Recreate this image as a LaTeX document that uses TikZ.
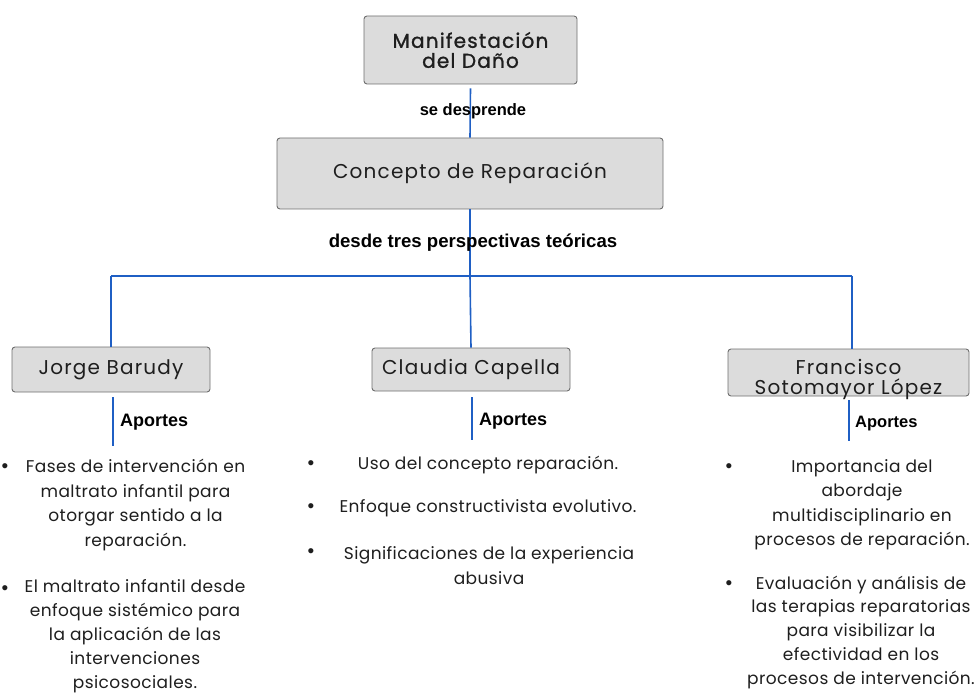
\documentclass[tikz,border=0pt]{standalone}
\usepackage{fontspec}
\setmainfont{Poppins}
\newfontfamily\labfont{Liberation Sans}
\newfontfamily\boxfont{Poppins}[LetterSpace=6]
\newfontfamily\boxboldfont{Poppins}[LetterSpace=6,FakeBold=1.2]
\newfontfamily\itemfont{Poppins}[LetterSpace=2.5]
\definecolor{boxgray}{HTML}{DCDCDC}
\definecolor{boxedge}{HTML}{6E6E6E}
\definecolor{linkblue}{HTML}{1F5FC4}
\definecolor{txt}{HTML}{1E1E1E}
\tikzset{
  box/.style={draw=boxedge, fill=boxgray, rounded corners=3pt, line width=0.9pt, inner sep=0pt, align=center, text=txt},
  boxtext/.style={font=\boxfont\fontsize{20}{20}\selectfont},
  link/.style={draw=linkblue, line width=1.6pt},
  lab/.style={font=\labfont\bfseries\fontsize{18}{20}\selectfont, inner sep=0pt, text=black},
  item/.style={font=\itemfont\fontsize{17}{24.5}\selectfont, align=center, inner sep=0pt, text=txt},
  bul/.style={font=\labfont\fontsize{19}{19}\selectfont, inner sep=0pt, text=txt}
}
\begin{document}
\begin{tikzpicture}[x=1pt,y=-1pt]
\useasboundingbox (0,0) rectangle (978,695);
% boxes
\node[box, minimum width=213pt, minimum height=68pt, font=\boxboldfont\fontsize{20}{20}\selectfont] (manif) at (470.5,50) {Manifestación\\del Daño};
\node[box, boxtext, minimum width=386pt, minimum height=71pt] (concepto) at (470,173.5) {Concepto de Reparación};
\node[box, boxtext, minimum width=198pt, minimum height=45pt] (jorge) at (111,369.5) {Jorge Barudy};
\node[box, boxtext, minimum width=198pt, minimum height=43pt] (claudia) at (471,369.5) {Claudia Capella};
\node[box, boxtext, minimum width=241pt, minimum height=47pt, font=\boxfont\fontsize{20}{20.5}\selectfont, text depth=0pt] (francisco) at (848.5,372.5) {\raisebox{1pt}{\parbox{230pt}{\centering Francisco\\Sotomayor López}}};
% connectors
\draw[link] ([yshift=-4pt]manif.south) -- (concepto.north);
\node[lab, font=\labfont\bfseries\fontsize{16.5}{18}\selectfont] (l1) at (473,111) {se desprende};
\coordinate (hub) at (470,276);
\coordinate (hl) at (111,276);
\coordinate (hr) at (852,276);
\draw[link] (concepto.south) -- (hub);
\draw[link] (hl) -- (hr);
\draw[link] (hl) -- (jorge.north);
\draw[link] (hub) -- (claudia.north);
\draw[link] (hr) -- (hr |- francisco.north);
\node[lab, font=\labfont\bfseries\fontsize{18.6}{20}\selectfont] (l2) at (473,243) {desde tres perspectivas teóricas};
% aportes
\coordinate (aj) at (113,446);
\coordinate (ac) at (472,440);
\coordinate (af) at (849,441);
\draw[link] ([yshift=-5pt]jorge.south -| aj) -- (aj);
\draw[link] ([yshift=-6pt]claudia.south -| ac) -- (ac);
\draw[link] ([yshift=-4pt]francisco.south -| af) -- (af);
\node[lab, anchor=west] (lj) at (120,422) {Aportes};
\node[lab, anchor=west] (lc) at (479,421) {Aportes};
\node[lab, anchor=west, font=\labfont\bfseries\fontsize{16.5}{18}\selectfont] (lf) at (855,424) {Aportes};
% left items
\node[bul] (bj1) at (5,468) {•};
\node[item] (ij1) at (135.5,505) {Fases de intervención en\\maltrato infantil para\\otorgar sentido a la\\reparación.};
\node[bul] (bj2) at (5,590) {•};
\node[item, font=\itemfont\fontsize{17}{24}\selectfont] (ij2) at (135,636.5) {El maltrato infantil desde\\enfoque sistémico para\\la aplicación de las\\intervenciones\\psicosociales.};
% middle items
\node[bul] (bc1) at (311,465) {•};
\node[item] (ic1) at (488,465) {Uso del concepto reparación.};
\node[bul] (bc2) at (311,508) {•};
\node[item] (ic2) at (488,508) {Enfoque constructivista evolutivo.};
\node[bul] (bc3) at (311,553) {•};
\node[item] (ic3) at (489,565.5) {Significaciones de la experiencia\\abusiva};
% right items
\node[bul] (bf1) at (729,468) {•};
\node[item] (if1) at (862,504.5) {Importancia del\\abordaje\\multidisciplinario en\\procesos de reparación.};
\node[bul] (bf2) at (729,585) {•};
\node[item, font=\itemfont\fontsize{17}{24}\selectfont] (if2) at (861,632.5) {Evaluación y análisis de\\las terapias reparatorias\\para visibilizar la\\efectividad en los\\procesos de intervención.};
\end{tikzpicture}
\end{document}
